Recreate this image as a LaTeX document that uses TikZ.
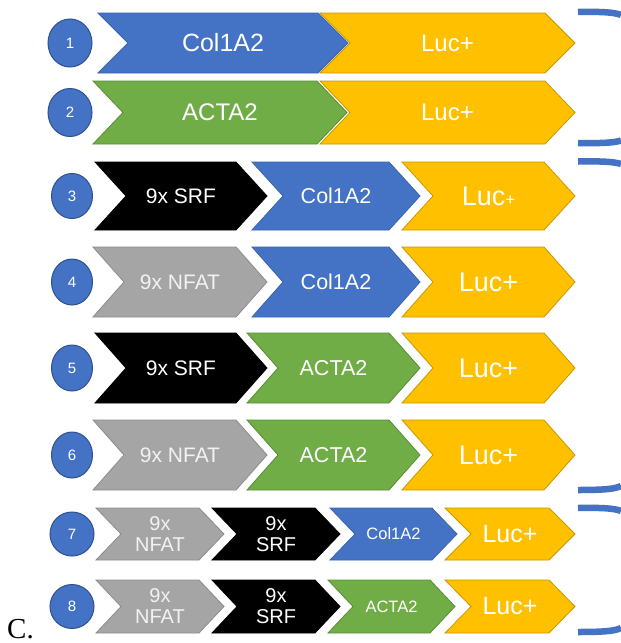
\documentclass[tikz,border=0pt]{standalone}
\usepackage{fontspec}
\setmainfont{Liberation Sans}
\newfontfamily\labelserif{Liberation Serif}
\usetikzlibrary{shapes.geometric}
\definecolor{cblue}{HTML}{4472C4}
\definecolor{cblueln}{HTML}{3B64AD}
\definecolor{cgreen}{HTML}{70AD47}
\definecolor{cgreenln}{HTML}{5A8C38}
\definecolor{cyellow}{HTML}{FFC000}
\definecolor{cyellowln}{HTML}{C99700}
\definecolor{cgrey}{HTML}{A5A5A5}
\definecolor{cgreyln}{HTML}{8C8C8C}
\definecolor{ccircln}{HTML}{2F528F}
\definecolor{cnfat}{HTML}{F2F2F2}
\newcommand\fsz[2]{\fontsize{#1}{#2}\selectfont}
% name, xleft, xtip, ycenter, halfheight, depth, shape style, label options, text
\newcommand\mychev[9]{%
  \draw[#7] (#2,#4-#5) -- (#3-#6,#4-#5) -- (#3,#4) -- (#3-#6,#4+#5) -- (#2,#4+#5) -- (#2+#6,#4) -- cycle;
  \node[lbl,#8] (#1) at ({(#2+#3)/2},#4) {#9};}
\begin{document}
\begin{tikzpicture}[x=1pt,y=-1pt,
  lbl/.style={text=white,inner sep=0pt,align=center},
  nf/.style={text=cnfat},
  bluechev/.style={fill=cblue,draw=cblueln,line width=0.8pt,line join=miter},
  greenchev/.style={fill=cgreen,draw=cgreenln,line width=0.8pt,line join=miter},
  yellowchev/.style={fill=cyellow,draw=cyellowln,line width=0.8pt,line join=miter},
  greychev/.style={fill=cgrey,draw=cgreyln,line width=0.8pt,line join=miter},
  blackchev/.style={fill=black,draw=black,line width=0.8pt,line join=miter},
  numc/.style={ellipse,fill=cblue,draw=ccircln,line width=1pt,text=white,inner sep=0pt,font=\fsz{15}{16}},
  brk/.style={draw=cblue,line width=6.5pt}]
\fill[white] (0,0) rectangle (621,643);
\useasboundingbox (0,0) rectangle (621,643);

% row 1
\node[numc,minimum width=44pt,minimum height=48pt] (n1) at (70,43) {1};
\mychev{r1a}{98}{348}{43}{30}{30}{bluechev}{font=\fsz{25}{27}}{Col1A2}
\mychev{r1b}{320}{575}{43}{30}{30}{yellowchev}{font=\fsz{24}{26}}{Luc+}
% row 2
\node[numc,minimum width=44pt,minimum height=48pt] (n2) at (70,112.5) {2};
\mychev{r2a}{93}{347}{112.5}{31.5}{30}{greenchev}{font=\fsz{24}{26}}{ACTA2}
\mychev{r2b}{320}{575}{112.5}{31.5}{30}{yellowchev}{font=\fsz{24}{26}}{Luc+}
% row 3
\node[numc,minimum width=41pt,minimum height=45pt] (n3) at (72,196) {3};
\mychev{r3a}{95}{267}{196}{34}{31}{blackchev}{font=\fsz{21}{23}}{9x SRF}
\mychev{r3b}{252}{420}{196}{34}{31}{bluechev}{font=\fsz{21.5}{23}}{Col1A2}
\mychev{r3c}{402}{575}{196}{34}{31}{yellowchev}{font=\fsz{27}{29}}{Luc{\fsz{17}{18}+}}
% row 4
\node[numc,minimum width=41pt,minimum height=46pt] (n4) at (72,282) {4};
\mychev{r4a}{93}{267}{282}{35}{31}{greychev}{nf,font=\fsz{21}{23}}{9x NFAT}
\mychev{r4b}{252}{420}{282}{35}{31}{bluechev}{font=\fsz{21.5}{23}}{Col1A2}
\mychev{r4c}{402}{575}{282}{35}{31}{yellowchev}{font=\fsz{27}{29}}{Luc+}
% row 5
\node[numc,minimum width=41pt,minimum height=46pt] (n5) at (72,368) {5};
\mychev{r5a}{95}{267}{368}{35}{31}{blackchev}{font=\fsz{21}{23}}{9x SRF}
\mychev{r5b}{247}{420}{368}{35}{31}{greenchev}{font=\fsz{21.5}{23}}{ACTA2}
\mychev{r5c}{402}{575}{368}{35}{31}{yellowchev}{font=\fsz{27}{29}}{Luc+}
% row 6
\node[numc,minimum width=41pt,minimum height=46pt] (n6) at (72,455) {6};
\mychev{r6a}{93}{267}{455}{35}{31}{greychev}{nf,font=\fsz{21}{23}}{9x NFAT}
\mychev{r6b}{247}{420}{455}{35}{31}{greenchev}{font=\fsz{21.5}{23}}{ACTA2}
\mychev{r6c}{402}{575}{455}{35}{31}{yellowchev}{font=\fsz{27}{29}}{Luc+}
% row 7
\node[numc,minimum width=44pt,minimum height=44pt] (n7) at (72,534) {7};
\mychev{r7a}{96}{224}{534}{26}{25}{greychev}{nf,font=\fsz{20}{21}}{9x\\NFAT}
\mychev{r7b}{212}{340}{534}{26}{25}{blackchev}{font=\fsz{20}{21}}{9x\\SRF}
\mychev{r7c}{330}{457}{534}{26}{25}{bluechev}{font=\fsz{16.5}{18}}{Col1A2}
\mychev{r7d}{445}{575}{534}{26}{26}{yellowchev}{font=\fsz{25}{27}}{Luc+}
% row 8
\node[numc,minimum width=44pt,minimum height=44pt] (n8) at (72,606.5) {8};
\mychev{r8a}{96}{224}{606.5}{26.5}{25}{greychev}{nf,font=\fsz{20}{21}}{9x\\NFAT}
\mychev{r8b}{212}{340}{606.5}{26.5}{25}{blackchev}{font=\fsz{20}{21}}{9x\\SRF}
\mychev{r8c}{328}{455}{606.5}{26.5}{25}{greenchev}{font=\fsz{16.5}{18}}{ACTA2}
\mychev{r8d}{445}{575}{606.5}{26.5}{26}{yellowchev}{font=\fsz{25}{27}}{Luc+}

% panel label
\node[anchor=base west,inner sep=0pt,font=\labelserif\fsz{29}{31}] (lblC) at (7,638) {C.};

% brackets (cut off at the right edge)
\coordinate (b1t) at (578,12);
\coordinate (b1b) at (578,143);
\coordinate (b2t) at (578,161.5);
\coordinate (b2b) at (578,490);
\coordinate (b3t) at (578,508);
\coordinate (b3b) at (578,632);
\draw[brk] (b1t) .. controls (604,11.5) and (615,12.5) .. (621,15);
\draw[brk] (b1b) .. controls (604,143.5) and (615,142.5) .. (621,140.5);
\draw[brk] (b2t) .. controls (604,161) and (615,162) .. (621,164);
\draw[brk] (b2b) .. controls (604,490) and (615,489) .. (621,486);
\draw[brk] (b3t) .. controls (604,507.5) and (615,508.5) .. (621,511);
\draw[brk] (b3b) .. controls (604,632) and (615,631) .. (621,628);
\end{tikzpicture}
\end{document}
